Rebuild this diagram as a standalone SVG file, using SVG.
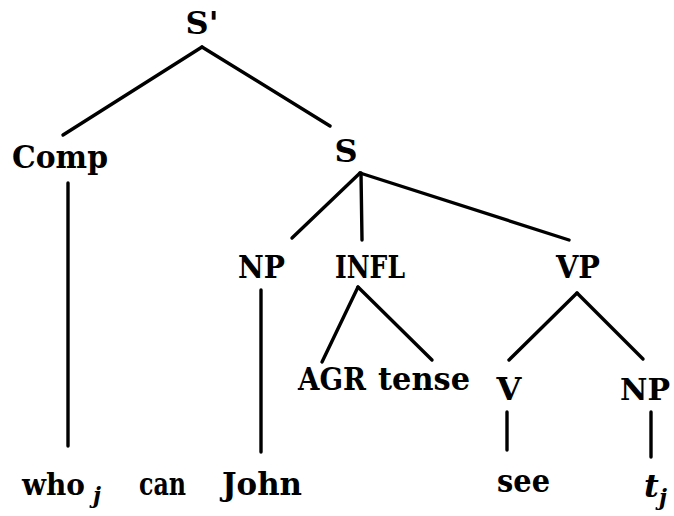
<svg xmlns="http://www.w3.org/2000/svg" width="674" height="516" viewBox="0 0 674 516">
<style>
text{font-family:"DejaVu Serif","Liberation Serif",serif;font-weight:bold;font-size:32px;fill:#000}
.m{text-anchor:middle}
.e{text-anchor:end}
.sub{font-size:22px;font-style:italic}
.it{font-style:italic}
line{stroke:#000;stroke-width:3.4;stroke-linecap:round}
</style>
<rect width="674" height="516" fill="#fff"/>
<g id="connectors">
<line x1="202" y1="47" x2="63" y2="135"/>
<line x1="202" y1="47" x2="330" y2="126"/>
<line x1="68" y1="183" x2="68" y2="446"/>
<line x1="360" y1="173" x2="292" y2="238"/>
<line x1="361" y1="173" x2="362" y2="240"/>
<line x1="360" y1="173" x2="569" y2="240"/>
<line x1="261" y1="290" x2="261" y2="452"/>
<line x1="358" y1="287" x2="322" y2="362"/>
<line x1="358" y1="287" x2="432" y2="360"/>
<line x1="577" y1="293" x2="509" y2="360"/>
<line x1="577" y1="293" x2="643" y2="359"/>
<line x1="507" y1="412" x2="507" y2="450"/>
<line x1="651" y1="412" x2="651" y2="457"/>
</g>
<g id="Sbar"><text class="m" x="202" y="34">S'</text></g>
<g id="Comp"><text x="12" y="168" textLength="96" lengthAdjust="spacingAndGlyphs">Comp</text></g>
<g id="S"><text class="m" x="346" y="162">S</text></g>
<g id="NP1"><text x="238" y="278" textLength="47" lengthAdjust="spacingAndGlyphs">NP</text></g>
<g id="INFL"><text x="335" y="278" textLength="70" lengthAdjust="spacingAndGlyphs">INFL</text></g>
<g id="VP"><text x="556" y="278" textLength="44" lengthAdjust="spacingAndGlyphs">VP</text></g>
<g id="AGR"><text x="298" y="390" textLength="68" lengthAdjust="spacingAndGlyphs">AGR</text></g>
<g id="tense"><text x="378" y="390" textLength="92" lengthAdjust="spacingAndGlyphs">tense</text></g>
<g id="V"><text class="m" x="509" y="400">V</text></g>
<g id="NP2"><text class="e" x="670" y="400" style="font-size:30px">NP</text></g>
<g id="who"><text x="22" y="495" style="font-size:29px" textLength="63" lengthAdjust="spacingAndGlyphs">who</text><text class="sub" x="93" y="503">j</text></g>
<g id="can"><text x="139" y="495" textLength="47" lengthAdjust="spacingAndGlyphs">can</text></g>
<g id="John"><text x="222" y="495" textLength="80" lengthAdjust="spacingAndGlyphs">John</text></g>
<g id="see"><text x="497" y="492" textLength="53" lengthAdjust="spacingAndGlyphs">see</text></g>
<g id="t"><text x="644" y="497" class="it">t</text><text class="sub" x="659" y="505">j</text></g>
</svg>
